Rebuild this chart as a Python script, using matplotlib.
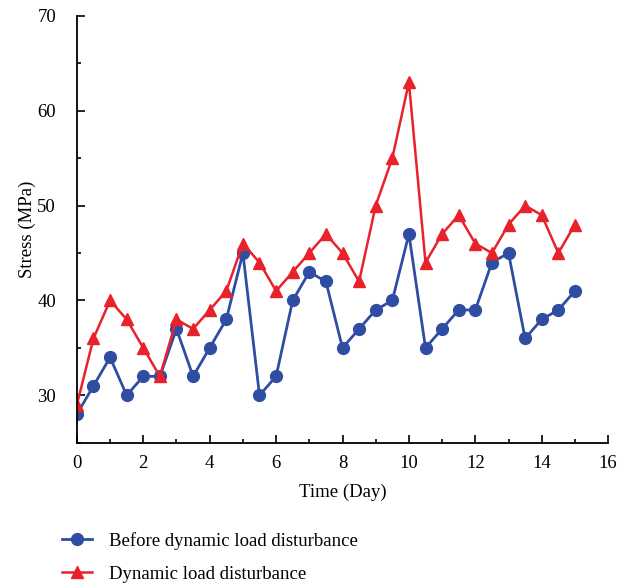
import numpy as np
import matplotlib.pyplot as plt

plt.rcParams['font.family'] = ['Liberation Serif', 'DejaVu Serif']

time = np.arange(0, 15.5, 0.5)
before = [28, 31, 34, 30, 32, 32, 37, 32, 35, 38, 45, 30, 32, 40, 43, 42,
          35, 37, 39, 40, 47, 35, 37, 39, 39, 44, 45, 36, 38, 39, 41]
dynamic = [29, 36, 40, 38, 35, 32, 38, 37, 39, 41, 46, 44, 41, 43, 45, 47,
           45, 42, 50, 55, 63, 44, 47, 49, 46, 45, 48, 50, 49, 45, 48]

fig = plt.figure(figsize=(6.25, 5.88), dpi=100)
ax = fig.add_axes([0.123, 0.247, 0.85, 0.726])

ax.plot(time, before, color='#2f4ea3', marker='o', markersize=8.5, linewidth=2,
        label='Before dynamic load disturbance')
ax.plot(time, dynamic, color='#e8212b', marker='^', markersize=8.5, linewidth=1.8,
        label='Dynamic load disturbance')

ax.set_xlim(0, 16)
ax.set_ylim(25, 70)
ax.set_xticks(np.arange(0, 17, 2))
ax.set_yticks(np.arange(30, 71, 10))
ax.set_xticks(np.arange(0, 17, 1), minor=True)
ax.set_yticks(np.arange(25, 71, 5), minor=True)
ax.tick_params(which='both', direction='in', labelsize=13.5, width=1.2)
ax.tick_params(which='major', length=6)
ax.tick_params(which='minor', length=3)
ax.tick_params(axis='x', which='major', pad=9)
ax.tick_params(axis='y', which='major', pad=15)
for side in ['top', 'right']:
    ax.spines[side].set_visible(False)
for side in ['left', 'bottom']:
    ax.spines[side].set_linewidth(1.3)

ax.set_xlabel('Time (Day)', fontsize=13.5, labelpad=8)
ax.set_ylabel('Stress (MPa)', fontsize=13.5, labelpad=1)

fig.legend(loc='upper left', bbox_to_anchor=(0.072, 0.124), frameon=False,
           fontsize=13.5, handlelength=1.6, handletextpad=0.9, labelspacing=0.85)

plt.savefig('out.png', dpi=100)
